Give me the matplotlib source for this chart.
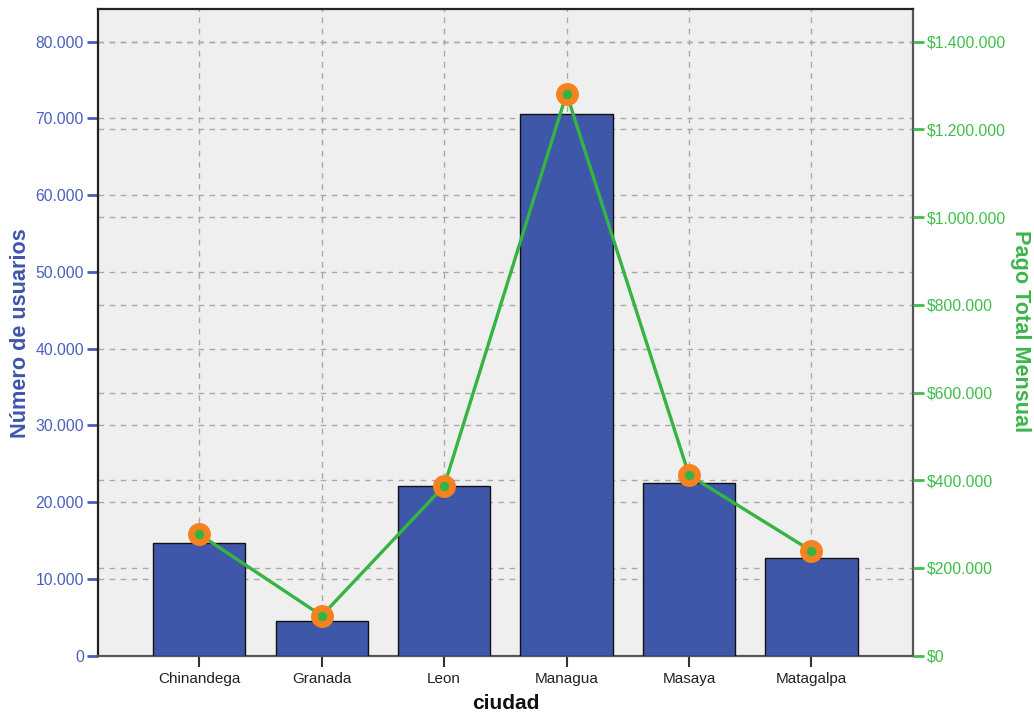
import matplotlib
matplotlib.use("Agg")
import matplotlib.pyplot as plt
from matplotlib.ticker import FuncFormatter, MultipleLocator
import numpy as np

plt.rcParams['font.family'] = ['Liberation Sans', 'DejaVu Sans']

# Data
ciudades = ["Chinandega", "Granada", "Leon", "Managua", "Masaya", "Matagalpa"]
usuarios = [14720, 4520, 22150, 70540, 22460, 12770]
pago_total = [276900, 91200, 387000, 1281600, 412100, 238800]

# Colours
bar_color = "#3E57A9"
line_green = "#35B443"
marker_orange = "#F58220"
left_color = "#4A5EBD"
right_color = "#3DBE4B"
grid_color = "#A8A8A8"

left_max = 84260
ratio = 17.5  # right-axis units per left-axis unit
right_max = left_max * ratio

fig = plt.figure(figsize=(10.34, 7.17), dpi=100)
ax = fig.add_axes([0.0945, 0.0855, 0.7885, 0.902])
ax.set_facecolor("#EFEFEF")
ax.set_axisbelow(True)

x = np.arange(len(ciudades))
ax.bar(x, usuarios, width=0.753, color=bar_color, edgecolor="#111111",
       linewidth=1.0, zorder=3)

ax.set_xlim(-0.83, 5.83)
ax.set_ylim(0, left_max)

# Gridlines: left ticks, right ticks (converted), and category centres
dash = (0, (4, 4))
for v in range(10000, 90000, 10000):
    if v < left_max:
        ax.axhline(v, color=grid_color, lw=1.0, ls=dash, zorder=1)
for v in range(200000, 1500000, 200000):
    if v < right_max:
        ax.axhline(v / ratio, color=grid_color, lw=1.0, ls=dash, zorder=1)
for xi in x:
    ax.axvline(xi, color=grid_color, lw=1.0, ls=dash, zorder=1)

ax.set_xticks(x)
ax.set_xticklabels(ciudades, fontsize=11, color="#222222")
ax.tick_params(axis="x", length=8, width=1.5, color="#333333", pad=4)

ax.yaxis.set_major_locator(MultipleLocator(10000))
ax.yaxis.set_major_formatter(FuncFormatter(lambda v, p: f"{int(v):,}".replace(",", ".")))
ax.tick_params(axis="y", length=8, width=2, color=left_color,
               labelcolor=left_color, labelsize=11.3, pad=2)

for s in ["left", "top"]:
    ax.spines[s].set_color("#222222")
    ax.spines[s].set_linewidth(1.6)
for s in ["right", "bottom"]:
    ax.spines[s].set_color("#555555")
    ax.spines[s].set_linewidth(1.6)

# Secondary axis for the monthly payment line
ax2 = ax.twinx()
ax2.set_ylim(0, right_max)
ax2.plot(x, pago_total, color=line_green, lw=2.4, zorder=4, solid_capstyle="round")
ax2.plot(x, pago_total, ls="none", marker="o", ms=15.5, mfc=marker_orange,
         mec=marker_orange, zorder=5)
ax2.plot(x, pago_total, ls="none", marker="o", ms=5.8, mfc=line_green,
         mec=line_green, zorder=6)
ax2.yaxis.set_major_locator(MultipleLocator(200000))
ax2.yaxis.set_major_formatter(FuncFormatter(lambda v, p: "$" + f"{int(v):,}".replace(",", ".")))
ax2.tick_params(axis="y", length=8, width=2, color=right_color,
                labelcolor=right_color, labelsize=11.3, pad=2)
for s in ax2.spines.values():
    s.set_visible(False)

fig.text(0.0195, 0.536, "Número de usuarios", rotation=90, ha="center", va="center",
         fontsize=15.6, fontweight="bold", color="#3F55AC")
fig.text(0.987, 0.538, "Pago Total Mensual", rotation=-90, ha="center", va="center",
         fontsize=15.6, fontweight="bold", color="#3BB54A")
fig.text(0.4894, 0.0195, "ciudad", ha="center", va="center",
         fontsize=15, fontweight="bold", color="#111111")

fig.savefig("out.png", dpi=100)
